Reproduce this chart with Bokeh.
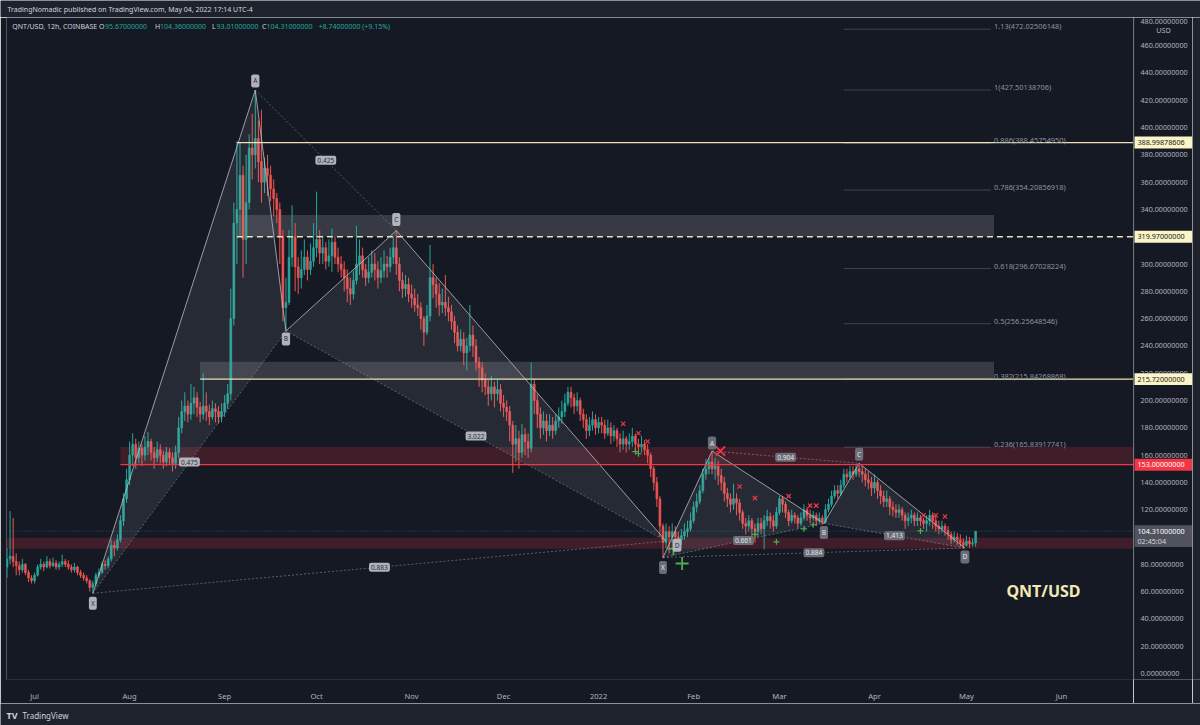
import pandas as pd
from bokeh.plotting import figure
from bokeh.models import Range1d, FixedTicker, Label, ColumnDataSource
from bokeh.layouts import column, row
from bokeh.embed import file_html
from bokeh.resources import INLINE
from bokeh.core.properties import value

# ---------------- data (daily candles) ----------------
FIRST_DAY = "2021-06-22"
first_open = 78.0

close_jun = [84, 86, 82, 79, 76, 80, 74, 70, 68]
high_jun = [92, 119, 114, 88, 82, 84, 81, 76, 72]
low_jun = [70, 80, 78, 72, 72, 74, 72, 67, 66]

close_jul = [72, 78, 80, 78, 82, 79, 81, 78, 80, 82, 80, 78, 76, 78, 74, 72, 70, 68, 63, 66, 72, 74, 80, 79, 84, 94, 92, 98, 112, 128, 142]
high_jul = [74, 80, 84, 82, 86, 84, 85, 83, 82, 87, 84, 83, 80, 81, 79, 76, 74, 72, 69, 68, 74, 77, 82, 83, 86, 98, 97, 102, 116, 132, 150]
low_jul = [66, 71, 76, 75, 77, 77, 78, 76, 76, 78, 78, 76, 74, 74, 72, 70, 68, 66, 60, 58.8, 64, 70, 73, 76, 77, 82, 86, 90, 96, 108, 125]

close_aug = [160, 168, 158, 165, 160, 166, 170, 162, 158, 164, 160, 155, 162, 158, 154, 162, 180, 192, 196, 190, 198, 202, 195, 190, 196, 192, 188, 194, 192, 188, 192]
high_aug = [170, 176, 172, 170, 168, 174, 177, 172, 166, 170, 168, 163, 166, 165, 162, 167, 188, 200, 206, 200, 212, 210, 206, 199, 220, 206, 197, 200, 198, 196, 198]
low_aug = [138, 152, 150, 154, 152, 156, 160, 156, 150, 155, 154, 150, 152, 153, 148, 150, 158, 176, 185, 184, 186, 190, 188, 184, 186, 185, 182, 186, 184, 183, 184]

close_sep = [198, 205, 260, 330, 340, 365, 318, 345, 385, 380, 392, 375, 360, 370, 365, 355, 348, 340, 320, 268, 272, 305, 320, 298, 290, 296, 305, 296, 302, 312]
high_sep = [204, 212, 282, 345, 390, 389, 372, 380, 395, 410, 427.5, 405, 413, 378, 380, 372, 362, 352, 345, 325, 290, 325, 343, 330, 305, 310, 318, 310, 315, 330]
low_sep = [188, 194, 200, 255, 300, 320, 290, 300, 340, 362, 370, 360, 345, 352, 350, 346, 335, 330, 300, 258, 251, 270, 298, 280, 278, 282, 292, 288, 292, 298]

close_oct = [318, 308, 312, 302, 306, 316, 305, 300, 296, 290, 282, 278, 288, 300, 306, 296, 290, 294, 300, 296, 290, 295, 300, 298, 305, 312, 300, 288, 282, 285, 278]
high_oct = [353, 325, 320, 316, 318, 326, 320, 312, 306, 302, 296, 290, 295, 328, 318, 312, 300, 305, 310, 308, 302, 305, 310, 306, 312, 320, 324.5, 305, 294, 292, 290]
low_oct = [305, 300, 300, 296, 298, 294, 300, 294, 290, 280, 272, 270, 274, 285, 292, 290, 284, 286, 290, 288, 282, 286, 290, 290, 294, 300, 292, 280, 275, 276, 272]

close_nov = [275, 270, 268, 260, 250, 262, 290, 285, 278, 270, 272, 268, 265, 258, 250, 240, 245, 235, 240, 248, 240, 228, 224, 215, 210, 205, 210, 205, 208, 198]
high_nov = [285, 282, 278, 272, 262, 270, 314, 300, 290, 286, 282, 292, 276, 270, 262, 255, 252, 250, 246, 270, 255, 245, 232, 228, 220, 215, 218, 214, 215, 212]
low_nov = [268, 265, 262, 252, 240, 248, 258, 275, 268, 262, 264, 262, 258, 252, 242, 236, 236, 226, 222, 236, 232, 222, 210, 206, 204, 196, 200, 195, 200, 192]

close_dec = [195, 192, 182, 168, 172, 162, 175, 170, 165, 212, 200, 190, 180, 185, 178, 182, 178, 185, 188, 192, 198, 206, 202, 196, 200, 190, 186, 178, 182, 186, 180]
high_dec = [204, 200, 196, 185, 182, 178, 183, 180, 176, 228, 216, 205, 195, 192, 190, 190, 188, 190, 195, 200, 205, 210, 210, 205, 206, 202, 194, 190, 188, 192, 190]
low_dec = [188, 185, 170, 147, 155, 150, 158, 160, 158, 162, 190, 180, 172, 175, 170, 174, 172, 175, 180, 183, 188, 196, 195, 190, 192, 185, 180, 172, 174, 178, 175]

close_jan = [184, 182, 176, 180, 174, 178, 172, 168, 172, 168, 170, 174, 168, 166, 168, 164, 160, 150, 140, 128, 108, 96, 104, 100, 104, 100, 98, 101, 104, 106, 112]
high_jan = [188, 188, 186, 186, 184, 182, 180, 176, 178, 174, 176, 180, 176, 172, 174, 171, 168, 162, 152, 144, 130, 110, 110, 108, 110, 108, 104, 106, 110, 112, 118]
low_jan = [176, 176, 172, 174, 168, 170, 166, 162, 164, 162, 164, 166, 162, 160, 162, 160, 154, 144, 134, 122, 100, 84.5, 92, 88, 96, 95, 92, 94, 98, 100, 104]

close_feb = [122, 126, 134, 146, 150, 155, 150, 152, 145, 140, 132, 128, 124, 128, 125, 118, 110, 108, 112, 106, 104, 110, 106, 112, 115, 112, 108, 118]
high_feb = [126, 132, 138, 150, 157, 158, 163, 158, 156, 150, 144, 136, 132, 139, 132, 128, 120, 114, 116, 114, 110, 114, 114, 116, 120, 118, 116, 122]
low_feb = [110, 118, 124, 132, 142, 146, 146, 142, 138, 134, 126, 122, 118, 120, 116, 112, 106, 102, 104, 100, 96, 100, 102, 91, 108, 106, 104, 106]

close_mar = [128, 124, 118, 112, 116, 114, 110, 114, 120, 116, 114, 116, 112, 114, 111, 120, 124, 130, 134, 132, 138, 146, 144, 148, 146, 150, 148, 146, 142, 140, 136]
high_mar = [130, 130, 126, 120, 120, 118, 116, 118, 124, 122, 120, 119, 118, 118, 116, 124, 128, 134, 138, 138, 142, 150, 150, 152, 152, 153, 154, 152, 150, 148, 144]
low_mar = [116, 118, 114, 108, 110, 110, 106, 108, 112, 112, 110, 112, 108, 110, 109, 110, 118, 122, 128, 128, 130, 136, 140, 142, 142, 144, 144, 140, 137, 135, 130]

close_apr = [140, 134, 130, 126, 128, 122, 120, 118, 120, 116, 112, 114, 116, 112, 114, 112, 110, 112, 116, 112, 108, 106, 108, 105, 102, 98, 100, 98, 96, 94]
high_apr = [146, 142, 138, 134, 134, 130, 126, 124, 124, 122, 118, 118, 120, 118, 118, 116, 114, 116, 120, 118, 116, 112, 112, 110, 108, 104, 104, 103, 102, 99]
low_apr = [132, 128, 124, 122, 122, 116, 115, 114, 114, 112, 106, 108, 110, 108, 108, 108, 106, 104, 108, 106, 104, 102, 103, 101, 98, 95, 96, 94, 93, 91.5]

close_may = [97, 95, 95.67, 104.31]
high_may = [101, 100, 99, 104.36]
low_may = [93, 92, 93, 93.01]

closes = close_jun + close_jul + close_aug + close_sep + close_oct + close_nov + close_dec + close_jan + close_feb + close_mar + close_apr + close_may
highs = high_jun + high_jul + high_aug + high_sep + high_oct + high_nov + high_dec + high_jan + high_feb + high_mar + high_apr + high_may
lows = low_jun + low_jul + low_aug + low_sep + low_oct + low_nov + low_dec + low_jan + low_feb + low_mar + low_apr + low_may

# harmonic patterns
pat1_dates = ["2021-07-20", "2021-09-11", "2021-09-21", "2021-10-27", "2022-01-23"]
pat1_prices = [58.8, 427.5, 251.0, 324.5, 97.0]
pat1_ratios = ["0.475", "0.425", "3.022", "0.883"]  # XB, AC, BD, XD
pat2_dates = ["2022-01-22", "2022-02-07", "2022-03-15 12:00", "2022-03-27", "2022-04-30 12:00"]
pat2_prices = [85.0, 163.0, 110.0, 154.0, 92.0]
pat2_ratios = ["0.661", "0.904", "1.413", "0.884"]
point_names = ["X", "A", "B", "C", "D"]

# fibonacci levels
fib_ratios = ["1.13", "1", "0.886", "0.786", "0.618", "0.5", "0.382", "0.236"]
fib_prices = [472.02506148, 427.50138706, 388.45754950, 354.20856918, 296.67028224, 256.25648546, 215.84268868, 165.83917741]
fib_start, fib_end = "2022-03-22", "2022-05-09"

# horizontal levels
level_prices = [388.99878606, 319.97, 215.72, 153.0]
level_starts = ["2021-09-05", "2021-09-05", "2021-08-24", "2021-07-29"]

# zones
zone_starts = ["2021-09-05", "2021-08-24", "2021-07-29", "2021-06-01"]
zone_ends = ["2022-05-10", "2022-05-10", "2022-08-01", "2022-08-01"]
zone_bottoms = [319.97, 215.72, 153.0, 91.5]
zone_tops = [336.0, 228.5, 166.0, 99.5]

# signal markers
big_x_dates, big_x_prices = ["2022-02-09 18:00"], [163.0]
big_plus_dates, big_plus_prices = ["2022-01-28 06:00", "2022-01-25 10:00"], [80.6, 91.5]
small_x_dates = ["2022-01-09", "2022-01-14", "2022-01-17", "2022-02-16", "2022-02-21", "2022-03-04", "2022-03-11", "2022-03-13", "2022-04-17", "2022-04-21", "2022-04-24"]
small_x_prices = [183, 176, 170, 137, 128.5, 130, 123, 123, 116, 116, 115]
small_plus_dates = ["2022-01-13", "2022-01-14", "2022-02-21", "2022-02-28", "2022-03-09", "2022-03-12", "2022-04-16"]
small_plus_prices = [162.6, 161, 102, 96.5, 106, 109, 104.5]

month_dates = ["2021-07-01", "2021-08-01", "2021-09-01", "2021-10-01", "2021-11-01", "2021-12-01",
               "2022-01-01", "2022-02-01", "2022-03-01", "2022-04-01", "2022-05-01", "2022-06-01"]
month_labels = ["Jul", "Aug", "Sep", "Oct", "Nov", "Dec", "2022", "Feb", "Mar", "Apr", "May", "Jun"]
price_ticks = list(range(0, 481, 20))

header = "TradingNomadic published on TradingView.com, May 04, 2022 17:14 UTC-4"
ohlc_parts = [("QNT/USD, 12h, COINBASE", "n"), ("O", "n"), ("95.67000000", "v"), ("H", "n"), ("104.36000000", "v"),
              ("L", "n"), ("93.01000000", "v"), ("C", "n"), ("104.31000000", "v"), ("+8.74000000 (+9.15%)", "v")]
countdown = "02:45:04"

# ---------------- styling ----------------
BG = "#151924"
OUTER = "#1e222d"
AXT = "#b2b5be"
FONT = "Noto Sans"
UP, DOWN = "#26a69a", "#ef5350"
CREAM = "#e9e2b4"
RED = "#f23645"
AX_FS = "7.2px"

T0 = pd.Timestamp("2021-07-01")


def day(s):
    return (pd.Timestamp(s) - T0) / pd.Timedelta(days=1)


X_START, X_END = day("2021-06-21 20:00"), day("2022-06-24 12:00")
Y_MIN, Y_MAX = -4.36, 480.6
LEFT, TOP, FW, FH = 6, 17, 1127, 668
PXU = FH / (Y_MAX - Y_MIN)  # pixels per price unit


def sx(px):
    return X_START + (px - LEFT) * (X_END - X_START) / FW


def sy(py):
    return Y_MAX - (py - TOP) / PXU


yr = Range1d(Y_MIN, Y_MAX)
p = figure(width=1133, height=686, x_range=Range1d(X_START, X_END), y_range=yr,
           y_axis_location=None, toolbar_location=None, output_backend="svg",
           min_border_left=LEFT, min_border_right=0, min_border_top=0, min_border_bottom=18,
           background_fill_color=BG, border_fill_color=BG, outline_line_color=None)
p.grid.visible = False

p.xaxis.ticker = FixedTicker(ticks=[int(day(d)) for d in month_dates])
p.xaxis.major_label_overrides = {int(day(d)): lab for d, lab in zip(month_dates, month_labels)}
ax = p.xaxis[0]
ax.major_label_text_font = FONT
ax.major_label_text_font_size = "7.6px"
ax.major_label_text_color = AXT
ax.major_tick_line_color = None
ax.minor_tick_line_color = None
ax.axis_line_color = "#2a2e39"
ax.major_label_standoff = 5

# zones
zsrc = ColumnDataSource(dict(l=[day(d) for d in zone_starts], r=[day(d) for d in zone_ends],
                             b=zone_bottoms, t=zone_tops,
                             c=["#7b7d85", "#7b7d85", RED, RED], a=[0.33, 0.33, 0.19, 0.19]))
p.quad(left="l", right="r", bottom="b", top="t", fill_color="c", fill_alpha="a", line_color=None, source=zsrc)

# fib lines
fx0, fx1 = day(fib_start), day(fib_end)
p.segment(x0=[fx0] * len(fib_prices), y0=fib_prices, x1=[fx1] * len(fib_prices), y1=fib_prices,
          line_color="#5d606b", line_width=1, line_alpha=0.6)
for r, v in zip(fib_ratios, fib_prices):
    p.add_layout(Label(x=fx1, y=v, x_offset=3, y_offset=3, text=f"{r}({v:.8f})", text_font=FONT,
                       text_font_size="7.4px", text_color="#8f929c", text_baseline="middle", text_align="left"))

# candles
n = len(closes)
xs = [day(FIRST_DAY) + i for i in range(n)]
opens = [first_open] + closes[:-1]
src = ColumnDataSource(dict(
    x=xs,
    top=[max(o, c) for o, c in zip(opens, closes)],
    bot=[min(o, c) for o, c in zip(opens, closes)],
    h=[max(h, o, c) for h, o, c in zip(highs, opens, closes)],
    l=[min(l, o, c) for l, o, c in zip(lows, opens, closes)],
    col=[UP if c >= o else DOWN for o, c in zip(opens, closes)],
))
p.segment(x0="x", y0="h", x1="x", y1="l", line_color="col", line_width=1, source=src)
p.vbar(x="x", width=0.62, top="top", bottom="bot", fill_color="col", line_color="col", line_width=0.6, source=src)

# current price line
p.segment(x0=[X_START], y0=[closes[-1]], x1=[X_END], y1=[closes[-1]], line_color=UP, line_alpha=0.45,
          line_width=1, line_dash="1 2")


# harmonic patterns
def draw_pattern(dates, prices, ratios, name_offsets, fill_alpha, tag_bg, tag_fg):
    X = [day(d) for d in dates]
    Y = prices
    p.patch([X[0], X[1], X[2]], [Y[0], Y[1], Y[2]], fill_color="#b2b5be", fill_alpha=fill_alpha, line_color=None)
    p.patch([X[2], X[3], X[4]], [Y[2], Y[3], Y[4]], fill_color="#b2b5be", fill_alpha=fill_alpha, line_color=None)
    p.line(X, Y, line_color="#c3c5cc", line_width=1, line_alpha=0.75)
    pairs = [(0, 2), (1, 3), (2, 4), (0, 4)]
    for (i, j), r in zip(pairs, ratios):
        p.line([X[i], X[j]], [Y[i], Y[j]], line_color="#9598a1", line_width=1, line_alpha=0.55, line_dash="2 2")
        p.add_layout(Label(x=(X[i] + X[j]) / 2, y=(Y[i] + Y[j]) / 2, text=r, text_font=FONT,
                           text_font_size="6.6px", text_color=tag_fg, text_align="center", text_baseline="middle",
                           background_fill_color=tag_bg, background_fill_alpha=0.95, padding=2, border_radius=2))
    for k, nm in enumerate(point_names):
        dx, dy = name_offsets[k]
        p.add_layout(Label(x=X[k], y=Y[k], x_offset=dx, y_offset=dy, text=nm, text_font=FONT,
                           text_font_size="6.6px", text_color=tag_fg, text_align="center", text_baseline="middle",
                           background_fill_color=tag_bg, background_fill_alpha=0.95, padding=2, border_radius=2))


draw_pattern(pat1_dates, pat1_prices, pat1_ratios, [(0, -10), (0, 9), (0, -8), (0, 11), (11, -4)], 0.11,
             "#b8bac2", "#2a2e39")
draw_pattern(pat2_dates, pat2_prices, pat2_ratios, [(0, -10), (0, 8), (0, -9), (0, 9), (0, -9)], 0.11,
             "#6f727c", "#e6e7ea")

# horizontal levels
styles = [(CREAM, "solid"), (CREAM, "dashed"), (CREAM, "solid"), (RED, "solid")]
for v, s, (c, dash) in zip(level_prices, level_starts, styles):
    p.segment(x0=[day(s)], y0=[v], x1=[X_END + 10], y1=[v], line_color=c, line_width=1.3,
              line_dash=("6 4" if dash == "dashed" else "solid"))

# markers
p.scatter([day(d) for d in small_x_dates], small_x_prices, marker="x", size=6, line_color=RED, line_width=1.2)
p.scatter([day(d) for d in small_plus_dates], small_plus_prices, marker="cross", size=6, line_color="#4caf50",
          line_width=1.2)
p.scatter([day(d) for d in big_x_dates], big_x_prices, marker="x", size=13, line_color=RED, line_width=1.8)
p.scatter([day(d) for d in big_plus_dates], big_plus_prices, marker="cross", size=13, line_color="#4caf50",
          line_width=1.8)

# header OHLC line
ohlc_x = [11.7, 98.5, 104.5, 154.5, 159.5, 211.5, 216.0, 261.5, 266.0, 318.0]
for (txt, kind), px in zip(ohlc_parts, ohlc_x):
    p.add_layout(Label(x=sx(px), y=sy(26), text=txt, text_font=FONT, text_font_size="7.0px",
                       text_color=(UP if kind == "v" else "#d1d4dc"), text_baseline="middle", text_align="left"))

p.add_layout(Label(x=sx(1043), y=sy(596), text="QNT/USD", text_font=FONT, text_font_size="16px",
                   text_font_style="bold", text_color="#f1e9b5", text_baseline="middle", text_align="center"))

# ---------------- right price scale ----------------
side = figure(width=59, height=686, x_range=Range1d(0, 59), y_range=yr, toolbar_location=None,
              output_backend="svg", min_border_left=0, min_border_right=0, min_border_top=0, min_border_bottom=18,
              x_axis_location=None, y_axis_location=None,
              background_fill_color=BG, border_fill_color=BG, outline_line_color=None)
side.grid.visible = False
side.segment(x0=[0.5], y0=[Y_MIN], x1=[0.5], y1=[Y_MAX], line_color="#2a2e39", line_width=1)
tick_y = [t if t < price_ticks[-1] else sy(21.5) for t in price_ticks]
side.text(x=[7] * len(price_ticks), y=tick_y, text=[f"{t:.8f}" for t in price_ticks],
          text_font=value(FONT), text_font_size=value(AX_FS), text_color=AXT,
          text_baseline="middle", text_align="left")
side.text(x=[30], y=[sy(30)], text=["USD"], text_font=value(FONT), text_font_size=value(AX_FS),
          text_color=AXT, text_baseline="middle", text_align="center")

# level tags (boxes drawn over tick labels)
tag_fill = ["#f23645" if c == RED else "#fbf4c6" for c, _ in styles]
tag_text = ["#ffffff" if c == RED else "#131722" for c, _ in styles]
side.quad(left=[1] * len(level_prices), right=[58.5] * len(level_prices),
          bottom=[v - 6 / PXU for v in level_prices], top=[v + 6 / PXU for v in level_prices],
          fill_color=tag_fill, line_color=None)
side.text(x=[4] * len(level_prices), y=level_prices, text=[f"{v:.8f}" for v in level_prices],
          text_font=value(FONT), text_font_size=value(AX_FS), text_color=tag_text,
          text_baseline="middle", text_align="left")
last = closes[-1]
side.quad(left=[1], right=[58.5], bottom=[last - 16 / PXU], top=[last + 6 / PXU], fill_color="#50535e",
          line_color=None)
side.text(x=[4, 4], y=[last, last - 10 / PXU], text=[f"{last:.8f}", countdown],
          text_font=value(FONT), text_font_size=value(AX_FS), text_color=["#ffffff", "#d1d4dc"],
          text_baseline="middle", text_align="left")

edge = figure(width=8, height=686, toolbar_location=None, output_backend="svg", min_border=0,
              x_axis_location=None, y_axis_location=None,
              background_fill_color=OUTER, border_fill_color=OUTER, outline_line_color=None)
edge.grid.visible = False

# ---------------- top / bottom strips ----------------
top = figure(width=1200, height=17, x_range=Range1d(0, 1200), y_range=Range1d(0, 17), toolbar_location=None,
             output_backend="svg", min_border=0, x_axis_location=None, y_axis_location=None,
             background_fill_color=OUTER, border_fill_color=OUTER, outline_line_color=None)
top.grid.visible = False
top.add_layout(Label(x=7, y=8.5, text=header, text_font=FONT, text_font_size="7.0px", text_color="#d1d4dc",
                     text_baseline="middle", text_align="left"))

bot = figure(width=1200, height=22, x_range=Range1d(0, 1200), y_range=Range1d(0, 22), toolbar_location=None,
             output_backend="svg", min_border=0, x_axis_location=None, y_axis_location=None,
             background_fill_color=OUTER, border_fill_color=OUTER, outline_line_color=None)
bot.grid.visible = False
bot.add_layout(Label(x=6, y=10, text="TV", text_font=FONT, text_font_size="9px", text_font_style="bold",
                     text_color="#d1d4dc", text_baseline="middle", text_align="left"))
bot.add_layout(Label(x=22, y=10, text="TradingView", text_font=FONT, text_font_size="8px",
                     text_color="#d1d4dc", text_baseline="middle", text_align="left"))

layout = column(top, row(p, side, edge, spacing=0), bot, spacing=0)
open("out.html", "w").write(file_html(layout, INLINE))
